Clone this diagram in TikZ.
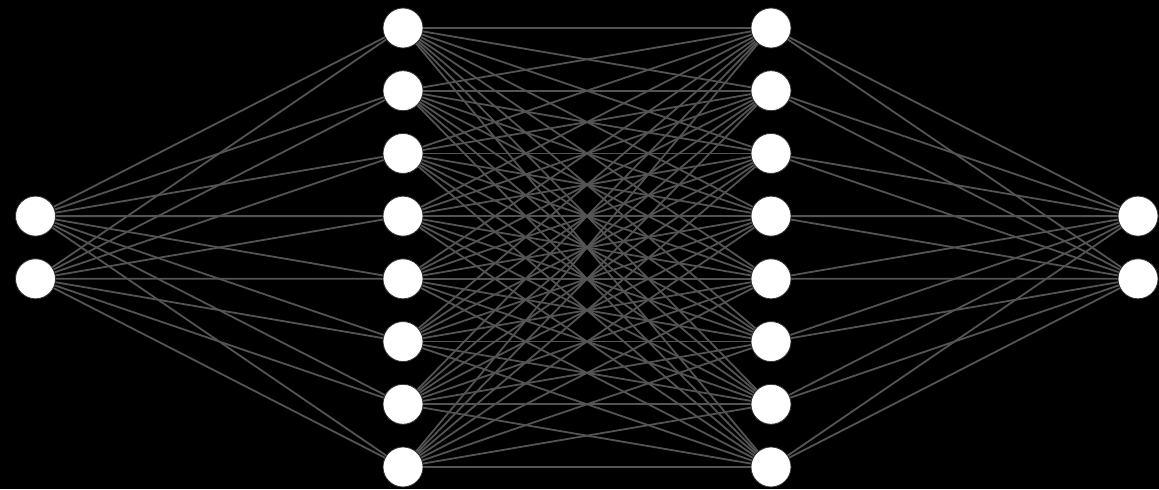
\documentclass[tikz,border=0pt]{standalone}
\pgfdeclarelayer{back}
\pgfdeclarelayer{edges}
\pgfsetlayers{back,edges,main}
\begin{document}
\begin{tikzpicture}[x=0.5pt,y=-0.5pt,
  neuron/.style={circle,fill=white,draw=black!80,line width=0.4pt,minimum size=20pt,inner sep=0pt},
  link/.style={draw=black!67!white,line width=0.9pt}]
\begin{pgfonlayer}{back}
\fill[black] (0,0) rectangle (1159,489);
\end{pgfonlayer}
\useasboundingbox (0,0) rectangle (1159,489);
\foreach \i in {1,...,8} {
  \node[neuron] (a\i) at (403,{28+(\i-1)*62.71}) {};
  \node[neuron] (b\i) at (771,{28+(\i-1)*62.71}) {};
}
\node[neuron] (in1) at (35.5,216.1) {};
\node[neuron] (in2) at (35.5,278.8) {};
\node[neuron] (out1) at (1138,216.1) {};
\node[neuron] (out2) at (1138,278.8) {};
\begin{pgfonlayer}{edges}
\foreach \i in {1,...,8} {
  \foreach \j in {1,2} {
    \draw[link] (in\j) -- (a\i);
    \draw[link] (b\i) -- (out\j);
  }
  \foreach \k in {1,...,8} {
    \draw[link] (a\i) -- (b\k);
  }
}
\end{pgfonlayer}
\end{tikzpicture}
\end{document}
